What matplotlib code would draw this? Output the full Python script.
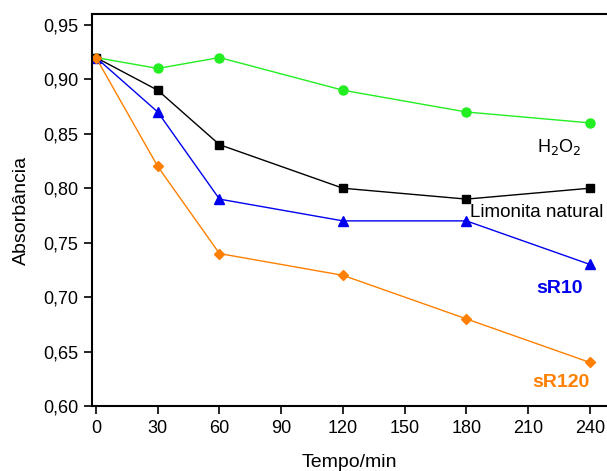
import numpy as np
import matplotlib.pyplot as plt
from matplotlib.ticker import FuncFormatter

plt.rcParams['font.family'] = ['Liberation Sans', 'DejaVu Sans']

tempo = [0, 30, 60, 120, 180, 240]
h2o2 = [0.92, 0.91, 0.92, 0.89, 0.87, 0.86]
limonita = [0.92, 0.89, 0.84, 0.80, 0.79, 0.80]
sr10 = [0.92, 0.87, 0.79, 0.77, 0.77, 0.73]
sr120 = [0.92, 0.82, 0.74, 0.72, 0.68, 0.64]

fig = plt.figure(figsize=(6.07, 4.71), dpi=100)
ax = fig.add_axes([92/607, 1-406/471, 1-92/607, (406-14)/471])

ax.plot(tempo, h2o2, '-o', color='#22ee22', lw=1, ms=6.5)
ax.plot(tempo, limonita, '-s', color='black', lw=1, ms=6)
ax.plot(tempo, sr10, '-^', color='#0000ee', lw=1, ms=7.5)
ax.plot(tempo, sr120, '-D', color='#ff8000', lw=1, ms=5.5)

ax.text(225, 0.838, 'H$_2$O$_2$', fontsize=13, ha='center', va='center')
ax.text(181.5, 0.778, 'Limonita natural', fontsize=13.5, ha='left', va='center')
ax.text(225, 0.708, 'sR10', fontsize=14, ha='center', va='center', color='#0000ee', fontweight='bold')
ax.text(226, 0.622, 'sR120', fontsize=14, ha='center', va='center', color='#ff8000', fontweight='bold')

ax.set_xlim(-1.94, 248.3)
ax.set_ylim(0.60, 0.96)
ax.set_xticks(np.arange(0, 241, 30))
ax.set_yticks(np.arange(0.60, 0.951, 0.05))
ax.yaxis.set_major_formatter(FuncFormatter(lambda v, p: ('%.2f' % v).replace('.', ',')))
ax.tick_params(labelsize=13, direction='out', length=6, width=1.2, pad=4)
for s in ['left', 'bottom', 'top']:
    ax.spines[s].set_linewidth(1.5)
ax.spines['right'].set_visible(False)

ax.set_xlabel('Tempo/min', fontsize=14, labelpad=12)
ax.set_ylabel('Absorbância', fontsize=14, labelpad=9)

fig.savefig('out.png', dpi=100)
